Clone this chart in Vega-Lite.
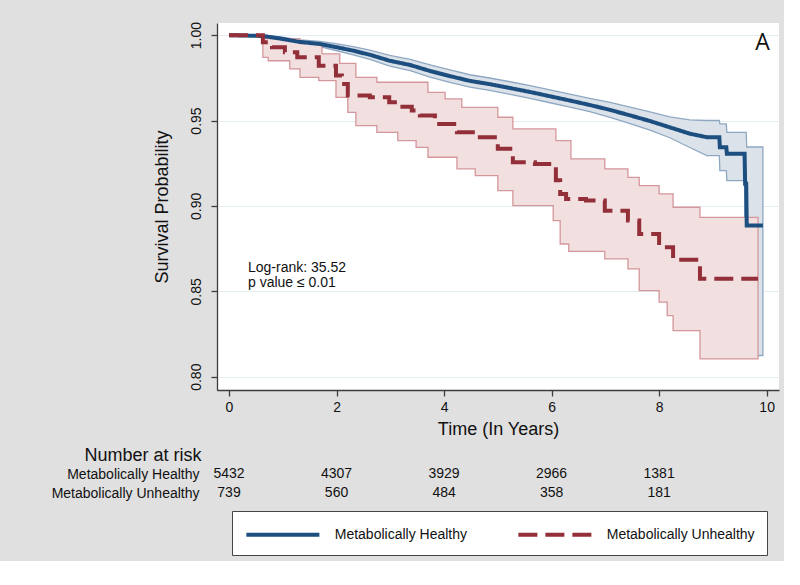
{
  "$schema": "https://vega.github.io/schema/vega-lite/v6.json",
  "background": "#e0e0e0",
  "padding": {"left": 51, "top": 21, "right": 5, "bottom": 5},
  "bounds": "flush",
  "spacing": 74.5,
  "config": {
    "font": "Liberation Sans",
    "view": {"stroke": null},
    "axis": {"domainColor": "#3c3c3c", "tickColor": "#3c3c3c", "labelColor": "#111111", "titleColor": "#111111", "labelFontSize": 14, "titleFontSize": 18, "titleFontWeight": "normal", "domainWidth": 1.3, "tickWidth": 1.3},
    "legend": {"orient": "none", "legendX": 15, "legendY": 488, "direction": "horizontal", "symbolType": "M-1,0H7", "symbolSize": 333, "symbolStrokeWidth": 4, "labelFontSize": 14, "labelColor": "#111111", "labelOffset": 67.75, "columnPadding": 42, "padding": 12, "strokeColor": "#444444", "fillColor": "white", "labelLimit": 300}
  },
  "datasets": {
    "km": [
      {"grp": "Metabolically Healthy", "t": 0, "s": 1, "lo": 1, "hi": 1},
      {"grp": "Metabolically Healthy", "t": 0.63, "s": 0.9995, "lo": 0.999, "hi": 1.0},
      {"grp": "Metabolically Healthy", "t": 0.95, "s": 0.998, "lo": 0.997, "hi": 0.999},
      {"grp": "Metabolically Healthy", "t": 1.32, "s": 0.996, "lo": 0.9948, "hi": 0.9972},
      {"grp": "Metabolically Healthy", "t": 1.69, "s": 0.9948, "lo": 0.9932, "hi": 0.9964},
      {"grp": "Metabolically Healthy", "t": 1.99, "s": 0.993, "lo": 0.991, "hi": 0.995},
      {"grp": "Metabolically Healthy", "t": 2.31, "s": 0.9909, "lo": 0.9885, "hi": 0.9933},
      {"grp": "Metabolically Healthy", "t": 2.62, "s": 0.9885, "lo": 0.9858, "hi": 0.9912},
      {"grp": "Metabolically Healthy", "t": 2.99, "s": 0.985, "lo": 0.9819, "hi": 0.9881},
      {"grp": "Metabolically Healthy", "t": 3.37, "s": 0.9825, "lo": 0.9792, "hi": 0.9858},
      {"grp": "Metabolically Healthy", "t": 3.74, "s": 0.979, "lo": 0.9754, "hi": 0.9826},
      {"grp": "Metabolically Healthy", "t": 4.11, "s": 0.976, "lo": 0.9724, "hi": 0.9796},
      {"grp": "Metabolically Healthy", "t": 4.48, "s": 0.9732, "lo": 0.9696, "hi": 0.9768},
      {"grp": "Metabolically Healthy", "t": 4.85, "s": 0.9713, "lo": 0.9677, "hi": 0.9749},
      {"grp": "Metabolically Healthy", "t": 5.23, "s": 0.969, "lo": 0.9653, "hi": 0.9727},
      {"grp": "Metabolically Healthy", "t": 5.6, "s": 0.9667, "lo": 0.963, "hi": 0.9704},
      {"grp": "Metabolically Healthy", "t": 5.97, "s": 0.9642, "lo": 0.9604, "hi": 0.968},
      {"grp": "Metabolically Healthy", "t": 6.34, "s": 0.9617, "lo": 0.9579, "hi": 0.9655},
      {"grp": "Metabolically Healthy", "t": 6.71, "s": 0.9591, "lo": 0.9552, "hi": 0.963},
      {"grp": "Metabolically Healthy", "t": 7.09, "s": 0.9562, "lo": 0.9518, "hi": 0.9606},
      {"grp": "Metabolically Healthy", "t": 7.46, "s": 0.953, "lo": 0.9482, "hi": 0.9578},
      {"grp": "Metabolically Healthy", "t": 7.83, "s": 0.9497, "lo": 0.9444, "hi": 0.955},
      {"grp": "Metabolically Healthy", "t": 8.2, "s": 0.946, "lo": 0.9399, "hi": 0.9521},
      {"grp": "Metabolically Healthy", "t": 8.57, "s": 0.9423, "lo": 0.9342, "hi": 0.9504},
      {"grp": "Metabolically Healthy", "t": 8.89, "s": 0.9402, "lo": 0.9294, "hi": 0.95},
      {"grp": "Metabolically Healthy", "t": 9.12, "s": 0.9402, "lo": 0.9294, "hi": 0.95},
      {"grp": "Metabolically Healthy", "t": 9.13, "s": 0.9343, "lo": 0.9207, "hi": 0.948},
      {"grp": "Metabolically Healthy", "t": 9.25, "s": 0.9343, "lo": 0.9207, "hi": 0.948},
      {"grp": "Metabolically Healthy", "t": 9.26, "s": 0.9306, "lo": 0.9148, "hi": 0.943},
      {"grp": "Metabolically Healthy", "t": 9.59, "s": 0.9306, "lo": 0.9148, "hi": 0.943},
      {"grp": "Metabolically Healthy", "t": 9.6, "s": 0.913, "lo": 0.8124, "hi": 0.943},
      {"grp": "Metabolically Healthy", "t": 9.62, "s": 0.913, "lo": 0.8124, "hi": 0.943},
      {"grp": "Metabolically Healthy", "t": 9.63, "s": 0.8885, "lo": 0.8124, "hi": 0.9345},
      {"grp": "Metabolically Healthy", "t": 9.93, "s": 0.8885, "lo": 0.8124, "hi": 0.9345},
      {"grp": "Metabolically Unhealthy", "t": 0, "s": 1, "lo": 1, "hi": 1},
      {"grp": "Metabolically Unhealthy", "t": 0.63, "s": 0.9958, "lo": 0.987, "hi": 0.998},
      {"grp": "Metabolically Unhealthy", "t": 0.73, "s": 0.9958, "lo": 0.985, "hi": 0.998},
      {"grp": "Metabolically Unhealthy", "t": 0.8, "s": 0.9929, "lo": 0.985, "hi": 0.998},
      {"grp": "Metabolically Unhealthy", "t": 1.04, "s": 0.99, "lo": 0.985, "hi": 0.998},
      {"grp": "Metabolically Unhealthy", "t": 1.13, "s": 0.99, "lo": 0.9802, "hi": 0.998},
      {"grp": "Metabolically Unhealthy", "t": 1.27, "s": 0.987, "lo": 0.9802, "hi": 0.998},
      {"grp": "Metabolically Unhealthy", "t": 1.32, "s": 0.987, "lo": 0.9753, "hi": 0.995},
      {"grp": "Metabolically Unhealthy", "t": 1.67, "s": 0.9821, "lo": 0.9734, "hi": 0.995},
      {"grp": "Metabolically Unhealthy", "t": 1.73, "s": 0.9821, "lo": 0.9734, "hi": 0.989},
      {"grp": "Metabolically Unhealthy", "t": 1.99, "s": 0.9763, "lo": 0.9636, "hi": 0.989},
      {"grp": "Metabolically Unhealthy", "t": 2.06, "s": 0.9763, "lo": 0.9636, "hi": 0.9835},
      {"grp": "Metabolically Unhealthy", "t": 2.1, "s": 0.9714, "lo": 0.9636, "hi": 0.9835},
      {"grp": "Metabolically Unhealthy", "t": 2.21, "s": 0.9646, "lo": 0.9548, "hi": 0.9835},
      {"grp": "Metabolically Unhealthy", "t": 2.36, "s": 0.9646, "lo": 0.947, "hi": 0.9753},
      {"grp": "Metabolically Unhealthy", "t": 2.62, "s": 0.9636, "lo": 0.947, "hi": 0.9753},
      {"grp": "Metabolically Unhealthy", "t": 2.75, "s": 0.9636, "lo": 0.9431, "hi": 0.9724},
      {"grp": "Metabolically Unhealthy", "t": 2.98, "s": 0.9607, "lo": 0.9431, "hi": 0.9724},
      {"grp": "Metabolically Unhealthy", "t": 3.14, "s": 0.9581, "lo": 0.9382, "hi": 0.9724},
      {"grp": "Metabolically Unhealthy", "t": 3.4, "s": 0.9558, "lo": 0.9382, "hi": 0.9724},
      {"grp": "Metabolically Unhealthy", "t": 3.48, "s": 0.9558, "lo": 0.9343, "hi": 0.9724},
      {"grp": "Metabolically Unhealthy", "t": 3.55, "s": 0.9529, "lo": 0.9343, "hi": 0.9724},
      {"grp": "Metabolically Unhealthy", "t": 3.7, "s": 0.9529, "lo": 0.9285, "hi": 0.9665},
      {"grp": "Metabolically Unhealthy", "t": 3.83, "s": 0.948, "lo": 0.9285, "hi": 0.9665},
      {"grp": "Metabolically Unhealthy", "t": 4.02, "s": 0.948, "lo": 0.9285, "hi": 0.9627},
      {"grp": "Metabolically Unhealthy", "t": 4.24, "s": 0.9431, "lo": 0.9217, "hi": 0.9627},
      {"grp": "Metabolically Unhealthy", "t": 4.33, "s": 0.9431, "lo": 0.9217, "hi": 0.9577},
      {"grp": "Metabolically Unhealthy", "t": 4.58, "s": 0.9402, "lo": 0.9177, "hi": 0.9577},
      {"grp": "Metabolically Unhealthy", "t": 5.0, "s": 0.9334, "lo": 0.909, "hi": 0.9519},
      {"grp": "Metabolically Unhealthy", "t": 5.28, "s": 0.9255, "lo": 0.9002, "hi": 0.9451},
      {"grp": "Metabolically Unhealthy", "t": 5.69, "s": 0.9246, "lo": 0.9002, "hi": 0.9451},
      {"grp": "Metabolically Unhealthy", "t": 6.03, "s": 0.9246, "lo": 0.8914, "hi": 0.9451},
      {"grp": "Metabolically Unhealthy", "t": 6.08, "s": 0.915, "lo": 0.8914, "hi": 0.9382},
      {"grp": "Metabolically Unhealthy", "t": 6.16, "s": 0.907, "lo": 0.8777, "hi": 0.9382},
      {"grp": "Metabolically Unhealthy", "t": 6.27, "s": 0.9041, "lo": 0.8777, "hi": 0.9382},
      {"grp": "Metabolically Unhealthy", "t": 6.32, "s": 0.9041, "lo": 0.8734, "hi": 0.9382},
      {"grp": "Metabolically Unhealthy", "t": 6.36, "s": 0.9041, "lo": 0.8734, "hi": 0.9275},
      {"grp": "Metabolically Unhealthy", "t": 6.64, "s": 0.9031, "lo": 0.8734, "hi": 0.9275},
      {"grp": "Metabolically Unhealthy", "t": 6.99, "s": 0.8972, "lo": 0.869, "hi": 0.9217},
      {"grp": "Metabolically Unhealthy", "t": 7.42, "s": 0.8914, "lo": 0.8631, "hi": 0.9167},
      {"grp": "Metabolically Unhealthy", "t": 7.63, "s": 0.8836, "lo": 0.8504, "hi": 0.9119},
      {"grp": "Metabolically Unhealthy", "t": 8.0, "s": 0.8758, "lo": 0.8436, "hi": 0.907},
      {"grp": "Metabolically Unhealthy", "t": 8.15, "s": 0.8758, "lo": 0.8358, "hi": 0.907},
      {"grp": "Metabolically Unhealthy", "t": 8.26, "s": 0.8684, "lo": 0.827, "hi": 0.8992},
      {"grp": "Metabolically Unhealthy", "t": 8.76, "s": 0.8573, "lo": 0.8104, "hi": 0.8933},
      {"grp": "Metabolically Unhealthy", "t": 9.84, "s": 0.8573, "lo": 0.8104, "hi": 0.8933}
    ],
    "risk": [
      {"grp": "Metabolically Healthy", "t": 0, "n": 5432},
      {"grp": "Metabolically Healthy", "t": 2, "n": 4307},
      {"grp": "Metabolically Healthy", "t": 4, "n": 3929},
      {"grp": "Metabolically Healthy", "t": 6, "n": 2966},
      {"grp": "Metabolically Healthy", "t": 8, "n": 1381},
      {"grp": "Metabolically Unhealthy", "t": 0, "n": 739},
      {"grp": "Metabolically Unhealthy", "t": 2, "n": 560},
      {"grp": "Metabolically Unhealthy", "t": 4, "n": 484},
      {"grp": "Metabolically Unhealthy", "t": 6, "n": 358},
      {"grp": "Metabolically Unhealthy", "t": 8, "n": 181}
    ]
  },
  "vconcat": [
    {
      "width": 562,
      "height": 367,
      "view": {"fill": "white", "stroke": null},
      "layer": [
        {
          "data": {"name": "km"},
          "transform": [{"filter": "datum.grp === 'Metabolically Healthy'"}],
          "mark": {"type": "area", "interpolate": "linear", "fill": "#dbe2ea", "stroke": "#8fa8c2", "strokeWidth": 1.3},
          "encoding": {
            "x": {"field": "t", "type": "quantitative", "scale": {"domain": [-0.223, 10.23], "nice": false, "zero": false}, "axis": {"values": [0, 2, 4, 6, 8, 10], "format": "d", "title": "Time (In Years)", "grid": false, "tickSize": 6, "labelPadding": 4, "titlePadding": 6}},
            "y": {"field": "lo", "type": "quantitative", "scale": {"domain": [0.7922, 1.0071], "nice": false, "zero": false}, "axis": {"values": [0.8, 0.85, 0.9, 0.95, 1.0], "format": ".2f", "title": "Survival Probability", "labelAngle": -90, "tickSize": 6, "labelPadding": 8, "titlePadding": 18, "grid": true, "gridColor": "#e4edf1", "gridWidth": 1}},
            "y2": {"field": "hi"}
          }
        },
        {
          "data": {"name": "km"},
          "transform": [{"filter": "datum.grp === 'Metabolically Unhealthy'"}],
          "mark": {"type": "area", "interpolate": "step-after", "fill": "#f2dfe0", "stroke": "#d4979b", "strokeWidth": 1.3},
          "encoding": {
            "x": {"field": "t", "type": "quantitative"},
            "y": {"field": "lo", "type": "quantitative", "title": "Survival Probability"},
            "y2": {"field": "hi"}
          }
        },
        {
          "data": {"name": "km"},
          "transform": [{"filter": "datum.grp === 'Metabolically Healthy'"}],
          "mark": {"type": "line", "interpolate": "linear", "strokeWidth": 4},
          "encoding": {
            "x": {"field": "t", "type": "quantitative"},
            "y": {"field": "s", "type": "quantitative", "title": "Survival Probability"},
            "stroke": {"field": "grp", "type": "nominal", "scale": {"domain": ["Metabolically Healthy", "Metabolically Unhealthy"], "range": ["#1c4e80", "#932f38"]}, "legend": {"title": null}},
            "strokeDash": {"field": "grp", "type": "nominal", "scale": {"domain": ["Metabolically Healthy", "Metabolically Unhealthy"], "range": [[1, 0], [19, 8]]}, "legend": {"title": null}}
          }
        },
        {
          "data": {"name": "km"},
          "transform": [{"filter": "datum.grp === 'Metabolically Unhealthy'"}],
          "mark": {"type": "line", "interpolate": "step-after", "strokeWidth": 4},
          "encoding": {
            "x": {"field": "t", "type": "quantitative"},
            "y": {"field": "s", "type": "quantitative", "title": "Survival Probability"},
            "stroke": {"field": "grp", "type": "nominal", "legend": {"title": null}},
            "strokeDash": {"field": "grp", "type": "nominal", "legend": {"title": null}}
          }
        },
        {
          "data": {"values": [{"t": 0.353, "s": 0.8612, "lines": ["Log-rank: 35.52", "p value ≤ 0.01"]}]},
          "mark": {"type": "text", "align": "left", "baseline": "alphabetic", "fontSize": 14, "lineHeight": 14.5, "color": "#111111"},
          "encoding": {
            "x": {"field": "t", "type": "quantitative"},
            "y": {"field": "s", "type": "quantitative"},
            "text": {"field": "lines"}
          }
        },
        {
          "data": {"values": [{"t": 9.925, "s": 0.9913, "label": "A"}]},
          "mark": {"type": "text", "align": "center", "baseline": "alphabetic", "fontSize": 23, "font": "Open Sans", "color": "#111111"},
          "encoding": {
            "x": {"field": "t", "type": "quantitative"},
            "y": {"field": "s", "type": "quantitative"},
            "text": {"field": "label"}
          }
        }
      ]
    },
    {
      "width": 562,
      "height": 38,
      "data": {"name": "risk"},
      "mark": {"type": "text", "fontSize": 14, "color": "#111111"},
      "encoding": {
        "x": {"field": "t", "type": "quantitative", "scale": {"domain": [-0.223, 10.23], "nice": false, "zero": false}, "axis": null},
        "y": {"field": "grp", "type": "nominal", "scale": {"domain": ["Metabolically Healthy", "Metabolically Unhealthy"]}, "axis": {"title": "Number at risk", "titleAngle": 0, "titleFontSize": 18, "titleAlign": "right", "titleBaseline": "alphabetic", "titleX": -16, "titleY": -4, "domain": false, "ticks": false, "labelPadding": 18, "labelFontSize": 14, "grid": false}},
        "text": {"field": "n", "type": "quantitative", "format": "d"}
      }
    }
  ]
}
